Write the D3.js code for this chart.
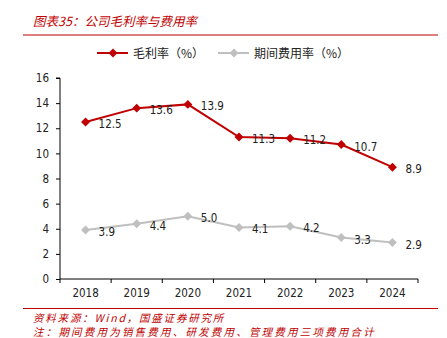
<!DOCTYPE html>
<html lang="zh">
<head>
<meta charset="utf-8">
<title>公司毛利率与费用率</title>
<script src="https://d3js.org/d3.v7.min.js"></script>
<style>
  body { margin: 0; background: #fff; }
  .cap { font-family: "Noto Sans CJK SC", sans-serif; font-style: italic; fill: #c00000; }
  .axis text { font-family: "DejaVu Sans Condensed", "DejaVu Sans", sans-serif; font-size: 11.5px; fill: #222; }
  .lab { font-family: "DejaVu Sans Condensed", "DejaVu Sans", sans-serif; font-size: 11.5px; fill: #222; }
  .leg { font-family: "Noto Sans CJK SC", sans-serif; font-size: 12px; fill: #222; }
</style>
</head>
<body>
<script>
// yearly data
var years = ["2018", "2019", "2020", "2021", "2022", "2023", "2024"];
var grossMargin = [12.5, 13.6, 13.9, 11.3, 11.2, 10.7, 8.9];
var expenseRate = [3.9, 4.4, 5.0, 4.1, 4.2, 3.3, 2.9];
var yTicks = [0, 2, 4, 6, 8, 10, 12, 14, 16];
var seriesNames = ["毛利率（%）", "期间费用率（%）"];

var w = 447, h = 338;
var red = "#c00000", gray = "#bfbfbf";

var svg = d3.select("body").append("svg")
  .attr("width", w)
  .attr("height", h);

// title + rules
svg.append("text").attr("class", "cap")
  .attr("x", 33).attr("y", 26).attr("font-size", 12.5)
  .text("图表35：公司毛利率与费用率");
svg.append("line").attr("x1", 23).attr("x2", 438).attr("y1", 35).attr("y2", 35)
  .attr("stroke", red).attr("stroke-width", 1.2);
svg.append("line").attr("x1", 23).attr("x2", 438).attr("y1", 308.5).attr("y2", 308.5)
  .attr("stroke", red).attr("stroke-width", 1.2);

// scales
var x = d3.scaleBand().domain(years).range([60, 418]);
var y = d3.scaleLinear().domain([0, 16]).range([279, 78]);

// y axis
var yAxis = svg.append("g").attr("class", "axis")
  .attr("transform", "translate(60,0)")
  .call(d3.axisLeft(y).tickValues(yTicks).tickSize(4).tickPadding(7));
yAxis.selectAll("line, path").attr("stroke", "#000");
yAxis.select(".domain").attr("d", "M-4," + y(16) + "H0V" + y(0));

// x axis, ticks sit between categories
var xAxis = svg.append("g").attr("class", "axis")
  .attr("transform", "translate(0,279)")
  .call(d3.axisBottom(x).tickSize(0).tickPadding(10));
xAxis.select(".domain").attr("stroke", "#000").attr("d", "M60,0H418");
xAxis.selectAll(".sep")
  .data(years.concat(["end"]))
  .enter().append("line")
  .attr("class", "sep")
  .attr("x1", function(d, i) { return 60 + i * x.bandwidth(); })
  .attr("x2", function(d, i) { return 60 + i * x.bandwidth(); })
  .attr("y1", 0).attr("y2", 4)
  .attr("stroke", "#000");

var cx = function(d, i) { return x(years[i]) + x.bandwidth() / 2; };
var line = d3.line().x(cx).y(function(d) { return y(d); });
var diamond = d3.symbol().type(d3.symbolSquare).size(40);

function drawSeries(vals, color) {
  svg.append("path").datum(vals)
    .attr("d", line).attr("fill", "none")
    .attr("stroke", color).attr("stroke-width", 2);
  svg.selectAll(null).data(vals).enter().append("path")
    .attr("d", diamond)
    .attr("transform", function(d, i) { return "translate(" + cx(d, i) + "," + y(d) + ") rotate(45)"; })
    .attr("fill", color);
  svg.selectAll(null).data(vals).enter().append("text")
    .attr("class", "lab")
    .attr("x", function(d, i) { return cx(d, i) + 13; })
    .attr("y", function(d) { return y(d) + 6; })
    .text(function(d) { return d.toFixed(1); });
}
drawSeries(expenseRate, gray);
drawSeries(grossMargin, red);

// legend
var legend = svg.selectAll(".legend")
  .data([[97, red], [218, gray]])
  .enter().append("g")
  .attr("class", "legend")
  .attr("transform", function(d) { return "translate(" + d[0] + ",53)"; });
legend.append("line").attr("x1", 0).attr("x2", 31)
  .attr("stroke", function(d) { return d[1]; }).attr("stroke-width", 2);
legend.append("path").attr("d", diamond).attr("transform", "translate(16,0) rotate(45)")
  .attr("fill", function(d) { return d[1]; });
legend.append("text").attr("class", "leg")
  .attr("x", 36).attr("y", 4.5)
  .text(function(d, i) { return seriesNames[i]; });

// source notes
svg.append("text").attr("class", "cap")
  .attr("x", 33).attr("y", 321.5).attr("font-size", 10.5)
  .attr("letter-spacing", 1.8)
  .text("资料来源：Wind，国盛证券研究所");
svg.append("text").attr("class", "cap")
  .attr("x", 33).attr("y", 336).attr("font-size", 10.5)
  .attr("letter-spacing", 2.2)
  .text("注：期间费用为销售费用、研发费用、管理费用三项费用合计");
</script>
</body>
</html>
